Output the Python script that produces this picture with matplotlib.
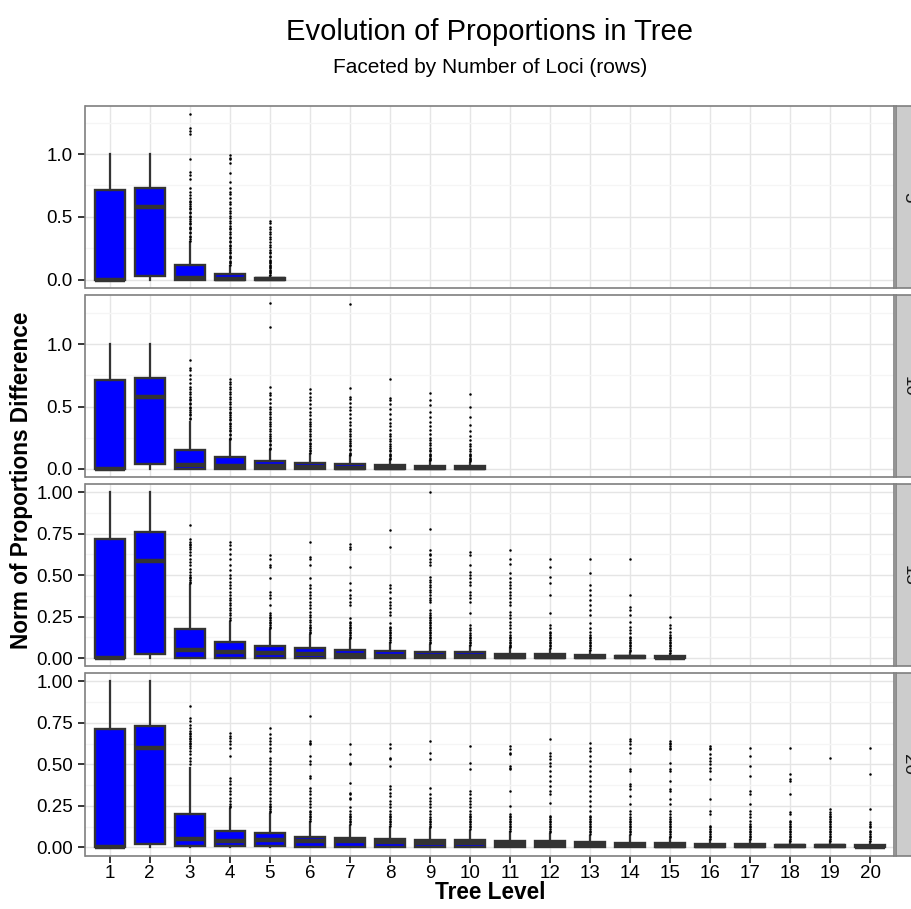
import matplotlib
matplotlib.use('Agg')
import matplotlib.pyplot as plt

plt.rcParams['font.family'] = ['Liberation Sans', 'DejaVu Sans']

loci = [5, 10, 15, 20]

# ---- 5 loci (levels 1-5) ----
q1_5 = [0.0, 0.03, 0.0, 0.0, 0.0]
med5 = [0.0, 0.58, 0.01, 0.005, 0.002]
q3_5 = [0.71, 0.73, 0.12, 0.045, 0.012]
lo5 = [0.0, 0.0, 0.0, 0.0, 0.0]
hi5 = [1.0, 1.0, 0.30, 0.11, 0.03]
out5 = [
    [],
    [],
    [0.31, 0.32, 0.34, 0.35, 0.37, 0.38, 0.40, 0.41, 0.42, 0.44, 0.45, 0.47, 0.48, 0.50, 0.51,
     0.53, 0.54, 0.56, 0.57, 0.59, 0.60, 0.62, 0.63, 0.65, 0.67, 0.70, 0.73, 0.80, 0.83, 0.86,
     0.96, 1.16, 1.18, 1.21, 1.32],
    [0.12, 0.13, 0.14, 0.15, 0.17, 0.18, 0.19, 0.21, 0.22, 0.24, 0.25, 0.27, 0.28, 0.30, 0.31,
     0.33, 0.34, 0.36, 0.38, 0.40, 0.41, 0.43, 0.45, 0.47, 0.49, 0.51, 0.53, 0.55, 0.57, 0.60,
     0.62, 0.65, 0.68, 0.70, 0.73, 0.78, 0.85, 0.93, 0.96, 0.97, 0.99],
    [0.04, 0.05, 0.06, 0.07, 0.08, 0.09, 0.10, 0.11, 0.12, 0.13, 0.14, 0.15, 0.16, 0.18, 0.19,
     0.21, 0.22, 0.24, 0.26, 0.28, 0.30, 0.32, 0.34, 0.36, 0.38, 0.40, 0.42, 0.45, 0.47],
]

# ---- 10 loci (levels 1-10) ----
q1_10 = [0.0, 0.04, 0.0, 0.0, 0.0, 0.0, 0.0, 0.0, 0.0, 0.0]
med10 = [0.0, 0.58, 0.03, 0.02, 0.02, 0.015, 0.01, 0.008, 0.006, 0.005]
q3_10 = [0.71, 0.73, 0.155, 0.093, 0.06, 0.05, 0.04, 0.03, 0.025, 0.02]
lo10 = [0.0, 0.0, 0.0, 0.0, 0.0, 0.0, 0.0, 0.0, 0.0, 0.0]
hi10 = [1.0, 1.0, 0.38, 0.23, 0.15, 0.12, 0.10, 0.07, 0.06, 0.05]
out10 = [
    [],
    [],
    [0.40, 0.41, 0.43, 0.44, 0.46, 0.47, 0.49, 0.50, 0.52, 0.53, 0.55, 0.56, 0.58, 0.60, 0.62,
     0.64, 0.66, 0.69, 0.72, 0.75, 0.79, 0.81, 0.87],
    [0.24, 0.25, 0.27, 0.28, 0.30, 0.31, 0.33, 0.34, 0.36, 0.37, 0.39, 0.40, 0.42, 0.43, 0.45,
     0.46, 0.48, 0.50, 0.52, 0.54, 0.56, 0.58, 0.60, 0.62, 0.64, 0.66, 0.68, 0.70, 0.72],
    [0.16, 0.17, 0.19, 0.20, 0.22, 0.23, 0.25, 0.26, 0.28, 0.30, 0.32, 0.34, 0.36, 0.38, 0.40,
     0.42, 0.44, 0.46, 0.48, 0.50, 0.53, 0.56, 0.59, 0.61, 0.66, 1.14, 1.33],
    [0.13, 0.14, 0.15, 0.17, 0.18, 0.20, 0.21, 0.23, 0.24, 0.26, 0.28, 0.30, 0.32, 0.34, 0.36,
     0.38, 0.40, 0.43, 0.46, 0.49, 0.52, 0.55, 0.58, 0.61, 0.64],
    [0.11, 0.12, 0.13, 0.15, 0.16, 0.18, 0.19, 0.21, 0.22, 0.24, 0.26, 0.28, 0.30, 0.32, 0.35,
     0.38, 0.41, 0.44, 0.47, 0.50, 0.53, 0.56, 0.58, 0.65, 1.32],
    [0.08, 0.09, 0.10, 0.11, 0.12, 0.14, 0.15, 0.17, 0.18, 0.20, 0.22, 0.24, 0.26, 0.28, 0.31,
     0.34, 0.37, 0.40, 0.44, 0.48, 0.52, 0.55, 0.57, 0.72],
    [0.07, 0.08, 0.09, 0.10, 0.11, 0.12, 0.14, 0.15, 0.17, 0.19, 0.21, 0.23, 0.25, 0.28, 0.31,
     0.34, 0.38, 0.42, 0.46, 0.51, 0.55, 0.61],
    [0.06, 0.07, 0.08, 0.09, 0.10, 0.11, 0.12, 0.14, 0.16, 0.18, 0.20, 0.23, 0.26, 0.30, 0.35,
     0.42, 0.50, 0.60],
]

# ---- 15 loci (levels 1-15) ----
q1_15 = [0.0, 0.024, 0.0, 0.0, 0.003, 0.0, 0.0, 0.0, 0.0, 0.0, 0.0, 0.0, 0.0, 0.0, 0.0]
med15 = [0.0, 0.587, 0.048, 0.035, 0.03, 0.025, 0.02, 0.015, 0.012, 0.01, 0.008, 0.006,
         0.005, 0.004, 0.003]
q3_15 = [0.72, 0.76, 0.175, 0.095, 0.074, 0.06, 0.05, 0.04, 0.038, 0.034, 0.026, 0.022,
         0.016, 0.012, 0.01]
lo15 = [0.0, 0.0, 0.0, 0.0, 0.0, 0.0, 0.0, 0.0, 0.0, 0.0, 0.0, 0.0, 0.0, 0.0, 0.0]
hi15 = [1.0, 1.0, 0.44, 0.22, 0.17, 0.14, 0.11, 0.09, 0.08, 0.07, 0.06, 0.05, 0.04, 0.03, 0.025]
out15 = [
    [],
    [],
    [0.45, 0.46, 0.47, 0.48, 0.49, 0.50, 0.52, 0.54, 0.56, 0.58, 0.60, 0.62, 0.64, 0.66, 0.67,
     0.68, 0.69, 0.70, 0.72, 0.80],
    [0.23, 0.24, 0.26, 0.27, 0.29, 0.30, 0.32, 0.33, 0.35, 0.36, 0.38, 0.40, 0.42, 0.44, 0.46,
     0.48, 0.50, 0.53, 0.56, 0.60, 0.63, 0.66, 0.68, 0.70],
    [0.18, 0.19, 0.20, 0.21, 0.22, 0.23, 0.24, 0.25, 0.26, 0.27, 0.32, 0.36, 0.38, 0.40, 0.48,
     0.55, 0.56, 0.60, 0.62],
    [0.15, 0.16, 0.17, 0.18, 0.19, 0.20, 0.22, 0.23, 0.25, 0.26, 0.28, 0.30, 0.32, 0.34, 0.36,
     0.38, 0.40, 0.42, 0.44, 0.48, 0.56, 0.60, 0.61, 0.70],
    [0.12, 0.13, 0.14, 0.15, 0.16, 0.17, 0.18, 0.19, 0.20, 0.21, 0.22, 0.24, 0.32, 0.34, 0.36,
     0.38, 0.41, 0.45, 0.55, 0.66, 0.67, 0.69],
    [0.10, 0.11, 0.12, 0.13, 0.14, 0.15, 0.16, 0.17, 0.18, 0.19, 0.21, 0.26, 0.28, 0.30, 0.32,
     0.34, 0.36, 0.40, 0.42, 0.44, 0.67, 0.77],
    [0.09, 0.10, 0.11, 0.12, 0.13, 0.14, 0.15, 0.16, 0.17, 0.18, 0.19, 0.20, 0.21, 0.22, 0.23,
     0.24, 0.25, 0.26, 0.27, 0.29, 0.34, 0.35, 0.36, 0.38, 0.40, 0.41, 0.43, 0.44, 0.46, 0.47,
     0.49, 0.56, 0.58, 0.60, 0.62, 0.63, 0.65, 0.78, 1.00],
    [0.08, 0.09, 0.10, 0.11, 0.12, 0.13, 0.14, 0.15, 0.17, 0.18, 0.20, 0.27, 0.34, 0.36, 0.38,
     0.40, 0.44, 0.46, 0.48, 0.50, 0.52, 0.56, 0.62, 0.64],
    [0.065, 0.07, 0.08, 0.09, 0.10, 0.11, 0.12, 0.13, 0.14, 0.16, 0.18, 0.20, 0.22, 0.24, 0.26,
     0.28, 0.32, 0.34, 0.36, 0.38, 0.40, 0.42, 0.44, 0.46, 0.48, 0.51, 0.57, 0.60, 0.65],
    [0.06, 0.07, 0.08, 0.09, 0.10, 0.11, 0.12, 0.13, 0.14, 0.15, 0.16, 0.18, 0.20, 0.27, 0.38,
     0.45, 0.49, 0.55, 0.60],
    [0.05, 0.06, 0.07, 0.08, 0.09, 0.10, 0.11, 0.12, 0.13, 0.14, 0.16, 0.18, 0.21, 0.26, 0.29,
     0.32, 0.35, 0.38, 0.41, 0.44, 0.51, 0.60],
    [0.04, 0.05, 0.06, 0.07, 0.08, 0.09, 0.10, 0.11, 0.12, 0.13, 0.15, 0.17, 0.19, 0.22, 0.26,
     0.29, 0.31, 0.38, 0.60],
    [0.03, 0.04, 0.05, 0.06, 0.07, 0.08, 0.09, 0.10, 0.11, 0.12, 0.13, 0.14, 0.16, 0.18, 0.20,
     0.25],
]

# ---- 20 loci (levels 1-20) ----
q1_20 = [0.0, 0.02, 0.005, 0.006, 0.005, 0.004, 0.003, 0.002, 0.002, 0.001, 0.0, 0.0,
         0.0, 0.0, 0.0, 0.0, 0.0, 0.0, 0.0, 0.0]
med20 = [0.0, 0.60, 0.05, 0.04, 0.042, 0.04, 0.035, 0.03, 0.028, 0.025, 0.02, 0.018,
         0.015, 0.012, 0.01, 0.008, 0.007, 0.006, 0.005, 0.004]
q3_20 = [0.716, 0.732, 0.20, 0.096, 0.084, 0.064, 0.056, 0.05, 0.046, 0.044, 0.04, 0.036,
         0.032, 0.028, 0.024, 0.02, 0.018, 0.016, 0.014, 0.012]
lo20 = [0.0, 0.0, 0.0, 0.0, 0.0, 0.0, 0.0, 0.0, 0.0, 0.0, 0.0, 0.0, 0.0, 0.0, 0.0, 0.0,
        0.0, 0.0, 0.0, 0.0]
hi20 = [1.0, 1.0, 0.48, 0.23, 0.20, 0.15, 0.13, 0.12, 0.11, 0.10, 0.09, 0.08, 0.07, 0.07,
        0.055, 0.045, 0.045, 0.035, 0.035, 0.03]
out20 = [
    [],
    [],
    [0.50, 0.52, 0.54, 0.56, 0.58, 0.60, 0.61, 0.62, 0.63, 0.64, 0.65, 0.66, 0.67, 0.68, 0.69,
     0.70, 0.72, 0.74, 0.76, 0.78, 0.85],
    [0.24, 0.25, 0.26, 0.28, 0.30, 0.32, 0.34, 0.36, 0.38, 0.40, 0.42, 0.55, 0.60, 0.62, 0.64,
     0.66, 0.67, 0.69],
    [0.21, 0.22, 0.23, 0.24, 0.25, 0.26, 0.28, 0.30, 0.32, 0.34, 0.36, 0.38, 0.40, 0.42, 0.44,
     0.46, 0.48, 0.50, 0.52, 0.54, 0.58, 0.60, 0.62, 0.64, 0.66, 0.68, 0.72],
    [0.16, 0.17, 0.18, 0.19, 0.20, 0.21, 0.22, 0.24, 0.26, 0.28, 0.30, 0.32, 0.34, 0.36, 0.42,
     0.43, 0.50, 0.52, 0.55, 0.62, 0.63, 0.64, 0.79],
    [0.14, 0.15, 0.16, 0.17, 0.18, 0.19, 0.20, 0.22, 0.24, 0.29, 0.30, 0.32, 0.33, 0.39, 0.50,
     0.51, 0.56, 0.62],
    [0.13, 0.14, 0.15, 0.16, 0.17, 0.18, 0.19, 0.20, 0.22, 0.24, 0.26, 0.28, 0.31, 0.33, 0.35,
     0.37, 0.49, 0.53, 0.54, 0.60, 0.62],
    [0.12, 0.13, 0.14, 0.15, 0.16, 0.17, 0.18, 0.20, 0.22, 0.24, 0.26, 0.28, 0.30, 0.32, 0.36,
     0.53, 0.57, 0.64],
    [0.11, 0.12, 0.13, 0.14, 0.15, 0.16, 0.17, 0.18, 0.19, 0.20, 0.22, 0.24, 0.26, 0.28, 0.30,
     0.32, 0.34, 0.47, 0.51, 0.61],
    [0.10, 0.11, 0.12, 0.13, 0.14, 0.15, 0.16, 0.17, 0.18, 0.19, 0.20, 0.25, 0.34, 0.47, 0.48,
     0.49, 0.56, 0.57, 0.59, 0.61],
    [0.09, 0.10, 0.11, 0.12, 0.13, 0.14, 0.15, 0.16, 0.17, 0.18, 0.19, 0.27, 0.32, 0.34, 0.37,
     0.40, 0.43, 0.46, 0.49, 0.51, 0.53, 0.55, 0.57, 0.65],
    [0.08, 0.09, 0.10, 0.11, 0.12, 0.13, 0.14, 0.15, 0.16, 0.17, 0.18, 0.19, 0.22, 0.25, 0.28,
     0.31, 0.34, 0.37, 0.40, 0.43, 0.46, 0.49, 0.52, 0.55, 0.58, 0.60, 0.63],
    [0.08, 0.09, 0.10, 0.11, 0.12, 0.13, 0.14, 0.15, 0.16, 0.17, 0.18, 0.20, 0.22, 0.26, 0.31,
     0.35, 0.37, 0.38, 0.46, 0.47, 0.57, 0.60, 0.62, 0.64, 0.65],
    [0.06, 0.07, 0.08, 0.09, 0.10, 0.11, 0.12, 0.13, 0.14, 0.15, 0.16, 0.17, 0.18, 0.20, 0.22,
     0.26, 0.29, 0.34, 0.35, 0.40, 0.46, 0.47, 0.51, 0.59, 0.60, 0.61, 0.62, 0.63, 0.64],
    [0.05, 0.06, 0.07, 0.08, 0.09, 0.10, 0.11, 0.12, 0.13, 0.20, 0.22, 0.29, 0.41, 0.46, 0.48,
     0.50, 0.52, 0.54, 0.56, 0.59, 0.60, 0.61],
    [0.05, 0.06, 0.07, 0.08, 0.09, 0.10, 0.11, 0.12, 0.13, 0.14, 0.16, 0.18, 0.20, 0.22, 0.26,
     0.32, 0.34, 0.43, 0.49, 0.55, 0.60],
    [0.04, 0.05, 0.06, 0.07, 0.08, 0.09, 0.10, 0.11, 0.12, 0.13, 0.14, 0.15, 0.16, 0.20, 0.21,
     0.32, 0.40, 0.41, 0.44, 0.60],
    [0.04, 0.05, 0.06, 0.07, 0.08, 0.09, 0.10, 0.11, 0.12, 0.13, 0.14, 0.15, 0.16, 0.17, 0.18,
     0.19, 0.20, 0.21, 0.23, 0.54],
    [0.04, 0.05, 0.06, 0.07, 0.08, 0.09, 0.10, 0.12, 0.13, 0.14, 0.15, 0.23, 0.44, 0.60],
]

panels = [
    (q1_5, med5, q3_5, lo5, hi5, out5, [0.0, 0.5, 1.0], '%.1f'),
    (q1_10, med10, q3_10, lo10, hi10, out10, [0.0, 0.5, 1.0], '%.1f'),
    (q1_15, med15, q3_15, lo15, hi15, out15, [0.0, 0.25, 0.5, 0.75, 1.0], '%.2f'),
    (q1_20, med20, q3_20, lo20, hi20, out20, [0.0, 0.25, 0.5, 0.75, 1.0], '%.2f'),
]
levels = list(range(1, 21))

W, H = 912, 909
fig = plt.figure(figsize=(W / 100, H / 100), dpi=100)


def px_rect(left, top, right, bottom):
    return [left / W, 1 - bottom / H, (right - left) / W, (bottom - top) / H]


left, right = 85.5, 894.5
top0, ph, gap = 105.5, 182.5, 6.7
edge = '#7F7F7F'
dark = '#333333'

for i, (q1, med, q3, lo, hi, outs, yt, fmt) in enumerate(panels):
    top = top0 + i * (ph + gap)
    ax = fig.add_axes(px_rect(left, top, right, top + ph))
    stats = [dict(q1=a, med=m, q3=b, whislo=l, whishi=h, fliers=f)
             for a, m, b, l, h, f in zip(q1, med, q3, lo, hi, outs)]
    ax.bxp(stats, positions=levels[:len(stats)], widths=0.75, patch_artist=True,
           showcaps=False, manage_ticks=False,
           boxprops=dict(facecolor='#0000FF', edgecolor=dark, linewidth=1.7),
           whiskerprops=dict(color=dark, linewidth=1.6),
           medianprops=dict(color=dark, linewidth=3.2, solid_capstyle='butt'),
           flierprops=dict(marker='o', markersize=1.8, markerfacecolor='black',
                           markeredgecolor='none'))

    ymax = max(hi + [v for f in outs for v in f])
    ymin = min(lo)
    pad = 0.05 * (ymax - ymin)
    ax.set_ylim(ymin - pad, ymax + pad)
    ax.set_xlim(0.4, 20.6)

    ax.set_yticks(yt)
    ax.set_yticklabels([fmt % v for v in yt])
    step = yt[1] - yt[0]
    minor = [v + step / 2 for v in yt if v + step / 2 < ymax + pad]
    ax.set_yticks(minor, minor=True)
    ax.set_xticks(levels)
    ax.set_axisbelow(True)
    ax.grid(True, which='major', color='#E5E5E5', linewidth=1.0)
    ax.grid(True, which='minor', axis='y', color='#F5F5F5', linewidth=1.0)
    ax.tick_params(axis='y', which='major', length=5, width=1.1, color='black',
                   labelsize=13.5, labelcolor='black', pad=4)
    ax.tick_params(axis='y', which='minor', length=0)
    if i == len(panels) - 1:
        ax.set_xticklabels([str(v) for v in levels])
        ax.tick_params(axis='x', length=5, width=1.1, color='black',
                       labelsize=13.5, labelcolor='black', pad=2)
    else:
        ax.tick_params(axis='x', length=0, labelbottom=False)
    for s in ax.spines.values():
        s.set_color(edge)
        s.set_linewidth(1.2)

    # facet strip on the right, running past the figure edge
    sx = fig.add_axes(px_rect(896.5, top, 921, top + ph))
    sx.set_facecolor('#CCCCCC')
    sx.set_xticks([])
    sx.set_yticks([])
    for s in sx.spines.values():
        s.set_color(edge)
        s.set_linewidth(1.2)
    sx.text(0.5, 0.5, str(loci[i]), rotation=-90, ha='center', va='center',
            fontsize=13.5, color='#1A1A1A', transform=sx.transAxes)

cx = (left + right) / 2 / W
fig.text(cx, 1 - 40 / H, 'Evolution of Proportions in Tree', ha='center',
         va='baseline', fontsize=21)
fig.text(cx, 1 - 73 / H, 'Faceted by Number of Loci (rows)', ha='center',
         va='baseline', fontsize=15)
fig.text(cx, 1 - 899 / H, 'Tree Level', ha='center', va='baseline',
         fontsize=16.3, fontweight='bold')
fig.text(22 / W, 1 - ((top0 + top0 + 4 * ph + 3 * gap) / 2) / H,
         'Norm of Proportions Difference', rotation=90, ha='center', va='center',
         fontsize=16.3, fontweight='bold')

fig.savefig('out.png', dpi=100, facecolor='white')
